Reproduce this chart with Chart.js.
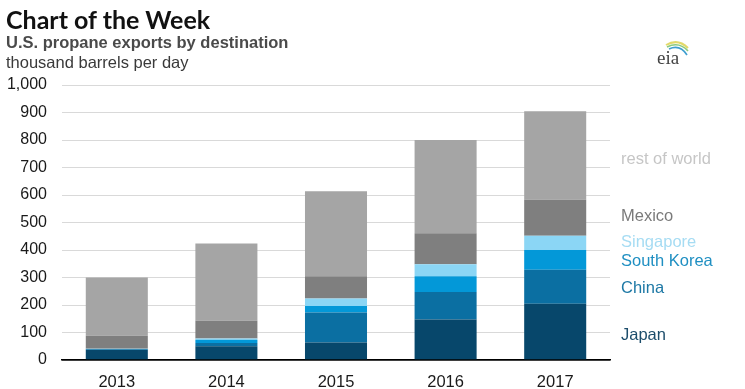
<!DOCTYPE html>
<html>
<head>
<meta charset="utf-8">
<script src="https://cdn.jsdelivr.net/npm/chart.js@4"></script>
<style>
  html, body { margin: 0; padding: 0; background: #fff; }
  #wrap { position: relative; width: 745px; height: 389px; overflow: hidden; }
  .txt { position: absolute; left: 6px; line-height: 1; white-space: nowrap; }
  #title { top: 4px; font: bold 25px Lato, sans-serif; color: #111; }
  #sub { top: 33px; font: bold 16.5px "Liberation Sans", Arial, sans-serif; color: #4a4a4a; }
  #unit { top: 53px; font: 16.5px "Liberation Sans", Arial, sans-serif; color: #3a3a3a; }
  #logo { position: absolute; left: 652px; top: 36px; width: 42px; height: 32px; }
  #logo span { position: absolute; left: 5px; top: 12px; font: 19px "Liberation Serif", serif; color: #444; line-height: 1; }
  canvas { position: absolute; left: 0; top: 0; }
</style>
</head>
<body>
<div id="wrap">
  <canvas id="propaneChart" width="745" height="389"></canvas>
  <div class="txt" id="title">Chart of the Week</div>
  <div class="txt" id="sub">U.S. propane exports by destination</div>
  <div class="txt" id="unit">thousand barrels per day</div>
  <div id="logo">
    <svg width="42" height="20" viewBox="0 0 42 20">
      <path d="M14 9 Q26 2 36 12" stroke="#e3d96a" stroke-width="2" fill="none"/>
      <path d="M15 11 Q27 5 36 15" stroke="#8cc97d" stroke-width="1.6" fill="none"/>
      <path d="M17 13 Q28 8 35 19" stroke="#3f9fd0" stroke-width="1.6" fill="none"/>
    </svg>
    <span>eia</span>
  </div>
</div>
<script>
// thousand barrels per day
const years = ['2013', '2014', '2015', '2016', '2017'];
const japan = [36, 50, 64, 147, 205];
const china = [3, 12, 109, 100, 123];
const southKorea = [1, 12, 23, 58, 72];
const singapore = [1, 4, 28, 43, 52];
const mexico = [47, 65, 81, 113, 131];
const restOfWorld = [212, 281, 309, 339, 322];
const yTicks = [0, 100, 200, 300, 400, 500, 600, 700, 800, 900, 1000];

const series = [
  { label: 'Japan', data: japan, color: '#07476b', text: '#1c4d6b', dy: 4 },
  { label: 'China', data: china, color: '#0b6fa2', text: '#1d78a5', dy: 2 },
  { label: 'South Korea', data: southKorea, color: '#0398d8', text: '#1f8fc2', dy: 2 },
  { label: 'Singapore', data: singapore, color: '#8bd6f5', text: '#a6dcf3', dy: 0 },
  { label: 'Mexico', data: mexico, color: '#7f7f7f', text: '#7a7a7a', dy: -1 },
  { label: 'rest of world', data: restOfWorld, color: '#a5a5a5', text: '#c6c6c6', dy: 4 },
];

// names written beside the last bar, near the middle of each segment
const sideLabels = {
  id: 'sideLabels',
  afterDatasetsDraw(chart) {
    const ctx = chart.ctx;
    const area = chart.chartArea;
    ctx.save();
    ctx.font = '16.5px "Liberation Sans", Arial, sans-serif';
    ctx.textBaseline = 'middle';
    ctx.textAlign = 'left';
    chart.data.datasets.forEach((ds, i) => {
      const meta = chart.getDatasetMeta(i);
      const bar = meta.data[meta.data.length - 1];
      const mid = (bar.y + bar.base) / 2;
      ctx.fillStyle = series[i].text;
      ctx.fillText(ds.label, area.right + 11, mid + series[i].dy);
    });
    ctx.restore();
  }
};

const ctx = document.getElementById('propaneChart').getContext('2d');
new Chart(ctx, {
  type: 'bar',
  data: {
    labels: years,
    datasets: series.map(s => ({
      label: s.label,
      data: s.data,
      backgroundColor: s.color,
      borderWidth: 0,
      barPercentage: 0.566,
      categoryPercentage: 1,
    })),
  },
  options: {
    responsive: false,
    animation: false,
    layout: { padding: { top: 85, right: 135, left: 0, bottom: 0 } },
    plugins: {
      legend: { display: false },
      tooltip: { enabled: false },
    },
    scales: {
      x: {
        stacked: true,
        grid: { display: false },
        border: { display: true, color: '#000', width: 1.5 },
        ticks: {
          color: '#1a1a1a',
          padding: 5,
          font: { family: '"Liberation Sans", Arial, sans-serif', size: 16.5 },
        },
        afterFit: s => { s.height = 29; },
      },
      y: {
        stacked: true,
        min: 0,
        max: 1000,
        afterBuildTicks: s => { s.ticks = yTicks.map(v => ({ value: v })); },
        grid: {
          color: c => (c.tick && c.tick.value === 0 ? '#000' : '#d9d9d9'),
          lineWidth: c => (c.tick && c.tick.value === 0 ? 1.5 : 1),
          drawTicks: false,
        },
        border: { display: false },
        ticks: {
          color: '#1a1a1a',
          padding: 15,
          font: { family: '"Liberation Sans", Arial, sans-serif', size: 16 },
          callback: v => v.toLocaleString('en-US'),
        },
        afterFit: s => { s.width = 62; },
      },
    },
  },
  plugins: [sideLabels],
});
</script>
</body>
</html>
